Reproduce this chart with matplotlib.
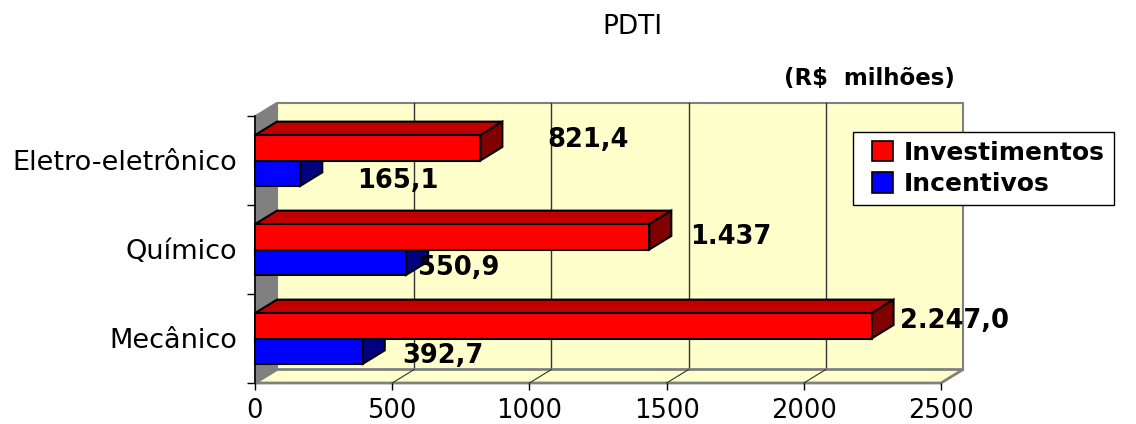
import matplotlib
matplotlib.use("Agg")
import matplotlib.pyplot as plt
from matplotlib.patches import Rectangle, Polygon, Patch
from matplotlib.legend_handler import HandlerPatch

# ---- data ----
categories = ['Mecânico', 'Químico', 'Eletro-eletrônico']
investimentos = [2247.0, 1437.0, 821.4]
incentivos = [392.7, 550.9, 165.1]
invest_labels = ['2.247,0', '1.437', '821,4']
incent_labels = ['392,7', '550,9', '165,1']
series_names = ['Investimentos', 'Incentivos']
xticks = [0, 500, 1000, 1500, 2000, 2500]
title = 'PDTI'
unit_text = '(R$  milhões)'

# ---- layout (label anchor positions in data coordinates) ----
invest_label_pos = [(2350, 0.20), (1585, 1.146), (1064, 2.225)]
incent_label_pos = [(536, -0.20), (594, 0.787), (372, 1.775)]

plt.rcParams['font.family'] = ['DejaVu Sans']

W, H = 1136, 424
fig = plt.figure(figsize=(W / 100, H / 100), dpi=100)
ax = fig.add_axes([255 / W, (H - 383) / H, 686 / W, 267 / H])
xmax = 2500
ax.set_xlim(0, xmax)
ax.set_ylim(-0.5, 2.5)

dx = 22 / (686 / xmax)      # depth offset in x data units
dy = 13.5 / 89.0            # depth offset in y data units
bh = 0.285                  # bar thickness
wall_col = '#FFFFCC'
gray = '#808080'

for s in ax.spines.values():
    s.set_visible(False)

# back wall
ax.add_patch(Rectangle((dx, -0.5 + dy), xmax, 3.0, facecolor=wall_col,
                       edgecolor=gray, lw=1.5, clip_on=False, zorder=1))
# left side wall
ax.add_patch(Polygon([(0, -0.5), (0, 2.5), (dx, 2.5 + dy), (dx, -0.5 + dy)],
                     closed=True, facecolor=gray, edgecolor=gray, lw=1,
                     clip_on=False, zorder=1.5))
# floor
ax.add_patch(Polygon([(0, -0.5), (xmax, -0.5), (xmax + dx, -0.5 + dy), (dx, -0.5 + dy)],
                     closed=True, facecolor=wall_col, edgecolor=gray, lw=2,
                     clip_on=False, zorder=1.5))
# gridlines on the wall and floor
for xv in xticks[1:-1]:
    ax.plot([xv + dx, xv + dx], [-0.5 + dy, 2.5 + dy], color='#333333', lw=1,
            clip_on=False, zorder=1.2)
    ax.plot([xv, xv + dx], [-0.5, -0.5 + dy], color='#333333', lw=0.8,
            clip_on=False, zorder=1.6)

# y axis line
ax.plot([0, 0], [-0.5, 2.5], color='black', lw=1.2, clip_on=False, zorder=2)


def bar3d(y0, v, front, top, side):
    kw = dict(edgecolor='black', lw=1.5, clip_on=False, zorder=3, joinstyle='miter')
    ax.add_patch(Polygon([(0, y0 + bh), (v, y0 + bh), (v + dx, y0 + bh + dy), (dx, y0 + bh + dy)],
                         closed=True, facecolor=top, **kw))
    ax.add_patch(Polygon([(v, y0), (v, y0 + bh), (v + dx, y0 + bh + dy), (v + dx, y0 + dy)],
                         closed=True, facecolor=side, **kw))
    ax.add_patch(Rectangle((0, y0), v, bh, facecolor=front, **kw))


for i in range(len(categories)):
    bar3d(i - bh, incentivos[i], '#0000FF', '#0000C0', '#000080')
    bar3d(i, investimentos[i], '#FF0000', '#C00000', '#800000')

lab_kw = dict(fontsize=18.5, fontweight='bold', ha='left', va='center',
              clip_on=False, zorder=5)
for (x, y), t in zip(invest_label_pos, invest_labels):
    ax.text(x, y, t, **lab_kw)
for (x, y), t in zip(incent_label_pos, incent_labels):
    ax.text(x, y, t, **lab_kw)

# ticks
ax.set_xticks(xticks)
ax.set_xticklabels([str(t) for t in xticks], fontsize=18.5)
ax.tick_params(axis='x', direction='out', length=5, width=1, pad=6)
ax.set_yticks([-0.5, 0.5, 1.5, 2.5])
ax.set_yticklabels([])
ax.tick_params(axis='y', which='major', direction='out', length=6, width=1)
ax.set_yticks(range(len(categories)), minor=True)
ax.set_yticklabels(categories, minor=True, fontsize=19.5)
ax.tick_params(axis='y', which='minor', length=0, pad=13)

# titles
fig.text(632 / W, 1 - 27 / H, title, fontsize=19, ha='center', va='center')
fig.text(869 / W, 1 - 78 / H, unit_text, fontsize=16.5, fontweight='bold',
         ha='center', va='center')


# legend with small square keys placed at the right of a wider handle box
def square_key(legend, orig_handle, xdescent, ydescent, width, height, fontsize):
    sq = 15
    return Rectangle((-xdescent + width - sq, -ydescent + (height - sq) / 2), sq, sq)


handles = [Patch(facecolor='#FF0000', edgecolor='black', lw=1.2),
           Patch(facecolor='#0000FF', edgecolor='black', lw=1.2)]
leg = fig.legend(handles, series_names, loc='upper left',
                 bbox_to_anchor=(853 / W, 1 - 132 / H),
                 prop=dict(weight='bold', size=18), frameon=True, fancybox=False,
                 edgecolor='black', framealpha=1, handlelength=1.25, handleheight=0.6,
                 handletextpad=0.45, borderpad=0.35, labelspacing=0.3,
                 borderaxespad=0,
                 handler_map={Patch: HandlerPatch(patch_func=square_key)})
leg.get_frame().set_linewidth(1)
leg.set_zorder(10)

fig.savefig('out.png', dpi=100)
